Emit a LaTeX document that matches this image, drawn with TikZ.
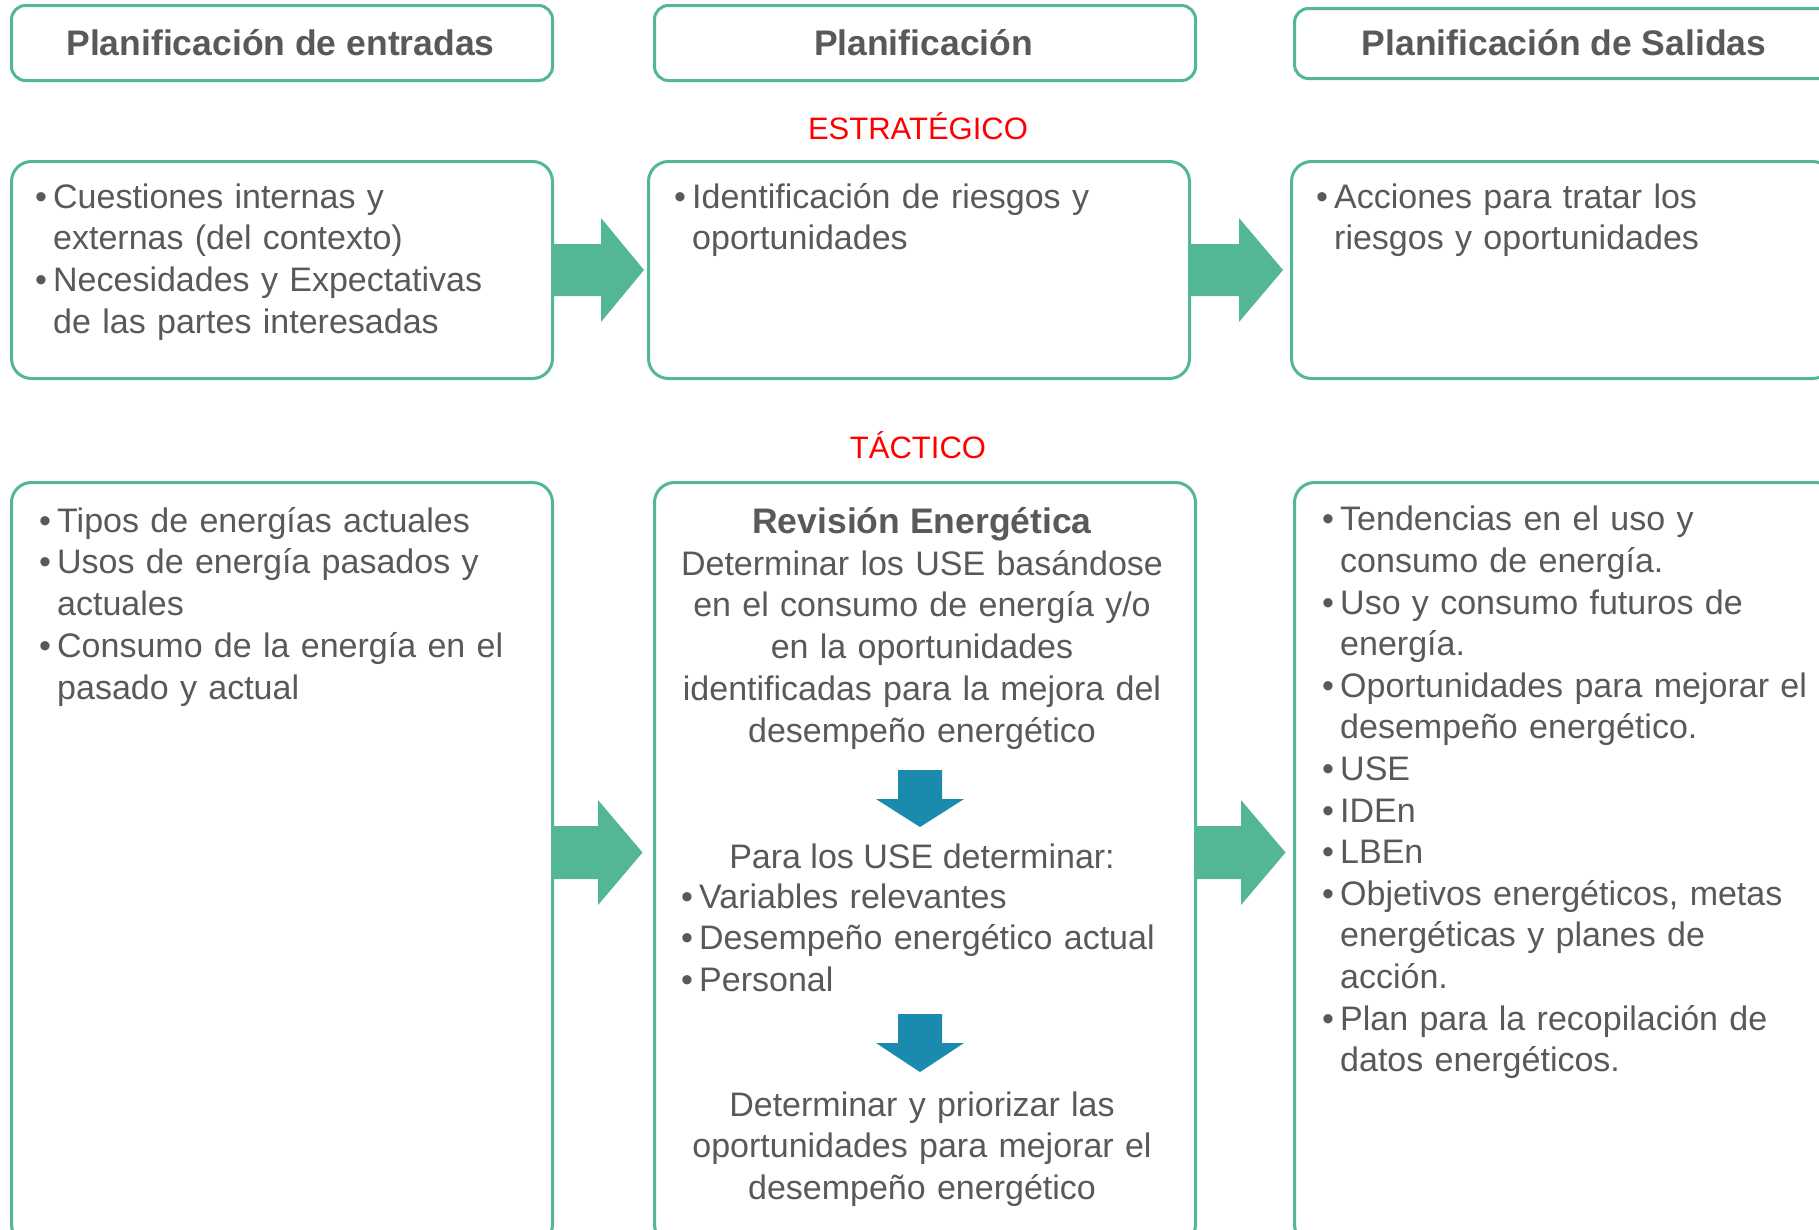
\documentclass[tikz,border=0pt]{standalone}
\usepackage{fontspec}
\setmainfont{Liberation Sans}
\definecolor{tealc}{HTML}{52B697}
\definecolor{bluec}{HTML}{1A8AAF}
\definecolor{txtc}{HTML}{595959}
\definecolor{redc}{HTML}{FF0000}
\newcommand{\bul}[1]{\hangindent=18pt\hangafter=1\noindent\strut\makebox[18pt][l]{\textbullet}#1\par}
\tikzset{
  hframe/.style={draw=tealc, line width=3pt, rounded corners=14pt, anchor=north west, inner sep=0pt},
  cframe/.style={draw=tealc, line width=3pt, rounded corners=20pt, anchor=north west, inner sep=0pt},
  body/.style={font=\fontsize{34}{41.8}\selectfont, text=txtc, inner sep=0pt},
  listtext/.style={body, anchor=north west, text width=520pt, align=left},
  denselist/.style={listtext, font=\fontsize{34}{41.6}\selectfont},
  centext/.style={body, anchor=north, text width=520pt, align=center},
  hdr/.style={font=\fontsize{35.5}{42}\selectfont\bfseries, text=txtc, inner sep=0pt, anchor=base},
  lvl/.style={font=\fontsize{31}{38}\selectfont, text=redc, inner sep=0pt, anchor=base},
  garrow/.style={fill=tealc, draw=none},
  barrow/.style={fill=bluec, draw=none},
}
\begin{document}
\begin{tikzpicture}[x=1pt,y=-1pt]
\useasboundingbox (0,0) rectangle (1819,1229);
\fill[white] (0,0) rectangle (1819,1229);
\clip (0,0) rectangle (1819,1229);

% header boxes
\node[hframe, minimum width=541pt, minimum height=75pt] (h1) at (10,4) {};
\node[hframe, minimum width=541pt, minimum height=75pt] (h2) at (653,4) {};
\node[hframe, minimum width=541pt, minimum height=70pt] (h3) at (1293,7) {};
\node[hdr] (h1t) at (280.5,55) {Planificación de entradas};
\node[hdr] (h2t) at (923.5,55) {Planificación};
\node[hdr] (h3t) at (1564,55) {Planificación de Salidas};

% level labels
\node[lvl] (est) at (918,139) {ESTRATÉGICO};
\node[lvl] (tac) at (918,458) {TÁCTICO};

% strategic boxes
\node[cframe, minimum width=541pt, minimum height=217pt] (b1) at (10,160) {};
\node[cframe, minimum width=541pt, minimum height=217pt] (b2) at (647,160) {};
\node[cframe, minimum width=541pt, minimum height=217pt] (b3) at (1290,160) {};

% tactical boxes
\node[cframe, minimum width=541pt, minimum height=762pt] (c1) at (10,481) {};
\node[cframe, minimum width=541pt, minimum height=762pt] (c2) at (653,481) {};
\node[cframe, minimum width=541pt, minimum height=762pt] (c3) at (1293,481) {};

% strategic texts
\node[listtext] (b1t) at (35,178.6) {\bul{Cuestiones internas y\newline externas (del contexto)}\bul{Necesidades y Expectativas\newline de las partes interesadas}};
\node[listtext] (b2t) at (674,178.6) {\bul{Identificación de riesgos y\newline oportunidades}};
\node[listtext] (b3t) at (1316,178.6) {\bul{Acciones para tratar los\newline riesgos y oportunidades}};

% tactical texts
\node[listtext] (c1t) at (39,502.6) {\bul{Tipos de energías actuales}\bul{Usos de energía pasados y\newline actuales}\bul{Consumo de la energía en el\newline pasado y actual}};
\node[denselist] (c3t) at (1322,501.6) {\bul{Tendencias en el uso y\newline consumo de energía.}\bul{Uso y consumo futuros de\newline energía.}\bul{Oportunidades para mejorar el\newline desempeño energético.}\bul{USE}\bul{IDEn}\bul{LBEn}\bul{Objetivos energéticos, metas\newline energéticas y planes de\newline acción.}\bul{Plan para la recopilación de\newline datos energéticos.}};

\node[hdr] (c2a) at (922,533) {Revisión Energética};
\node[centext] (c2b) at (922,545.6) {\strut Determinar los USE basándose\\en el consumo de energía y/o\\en la oportunidades\\identificadas para la mejora del\\desempeño energético};
\node[body, anchor=base] (c2c) at (922,868) {Para los USE determinar:};
\node[listtext] (c2d) at (681,878.6) {\bul{Variables relevantes}\bul{Desempeño energético actual}\bul{Personal}};
\node[centext] (c2e) at (922,1086.6) {\strut Determinar y priorizar las\\oportunidades para mejorar el\\desempeño energético};

% green arrows between columns
\fill[garrow] (b1.east) ++(0,-26) -- ++(47,0) -- ++(0,-26) -- ++(43,52) -- ++(-43,52) -- ++(0,-26) -- ++(-47,0) -- cycle;
\fill[garrow] (b2.east) ++(0,-26) -- ++(48,0) -- ++(0,-26) -- ++(44,52) -- ++(-44,52) -- ++(0,-26) -- ++(-48,0) -- cycle;
\path (c1.east) ++(0,-11) coordinate (a3);
\path (c2.east) ++(0,-11) coordinate (a4);
\fill[garrow] (a3) ++(0,-26.5) -- ++(44,0) -- ++(0,-26) -- ++(44.5,52.5) -- ++(-44.5,52.5) -- ++(0,-26) -- ++(-44,0) -- cycle;
\fill[garrow] (a4) ++(0,-26.5) -- ++(44,0) -- ++(0,-26) -- ++(44.5,52.5) -- ++(-44.5,52.5) -- ++(0,-26) -- ++(-44,0) -- cycle;

% blue down arrows
\coordinate (d1) at (920,770);
\coordinate (d2) at (920,1014);
\fill[barrow] (d1) ++(-22,0) -- ++(44,0) -- ++(0,29) -- ++(22,0) -- ++(-44,28) -- ++(-44,-28) -- ++(22,0) -- cycle;
\fill[barrow] (d2) ++(-22,0) -- ++(44,0) -- ++(0,29) -- ++(22,0) -- ++(-44,29) -- ++(-44,-29) -- ++(22,0) -- cycle;
\end{tikzpicture}
\end{document}
